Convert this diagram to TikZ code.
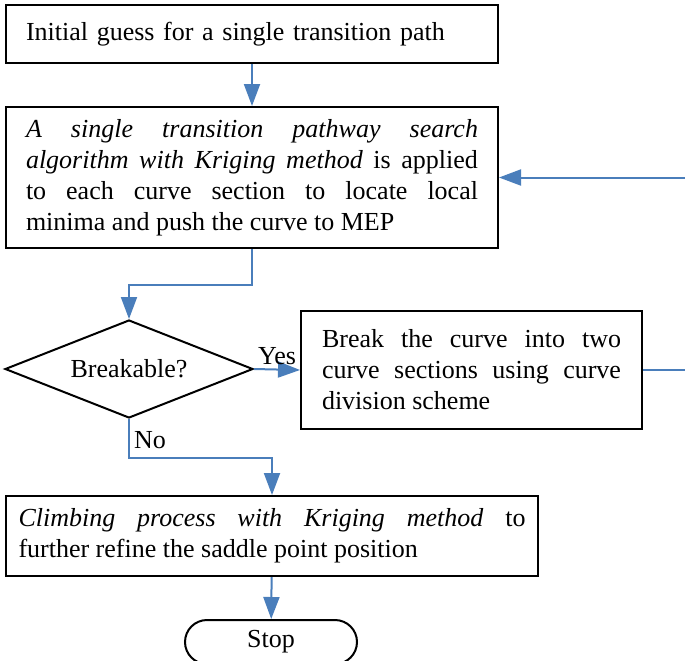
\documentclass[tikz,border=0pt]{standalone}
\usepackage{fontspec}
\setmainfont{Liberation Serif}
\usepackage{tikz}
\usetikzlibrary{arrows.meta,positioning,shapes.geometric}
\definecolor{flowBlue}{HTML}{4A7EBB}
\newcommand{\flowfont}{\fontsize{13}{15.5}\selectfont}
\tikzset{
  flowbox/.style={draw=black, line width=1pt, rectangle, inner ysep=0pt, anchor=north west, font=\flowfont},
  flowdecision/.style={draw=black, line width=1pt, diamond, inner sep=0pt, aspect=2.5, font=\flowfont},
  flowstop/.style={draw=black, line width=1pt, rectangle, rounded corners=11pt, inner sep=0pt, font=\flowfont},
  flowarrow/.style={-{Triangle[length=11pt, width=8pt]}, line width=1pt, draw=flowBlue},
  flowlabel/.style={font=\flowfont, inner sep=2pt}
}
\begin{document}
\begin{tikzpicture}[x=0.5pt, y=-0.5pt]
    \useasboundingbox (0,0) rectangle (685,660);
    \clip (0,0) rectangle (685,660);
    \node[flowbox, minimum width=246pt, minimum height=29pt, text width=226pt, inner xsep=10pt, align=left] (init) at (5,4)
      {Initial guess for a single transition path};
    \node[flowbox, minimum width=246pt, minimum height=70.5pt, text width=226pt, inner xsep=10pt, align=justify] (search) at (5,106)
      {\textit{A single transition pathway search\linebreak algorithm with Kriging method} is applied\linebreak to each curve section to locate local\linebreak minima and push the curve to MEP};
    \node[flowdecision, minimum width=124pt, minimum height=49pt] (brk) at (129,369) {Breakable?};
    \node[flowbox, minimum width=170.5pt, minimum height=59pt, text width=149.5pt, inner xsep=10.5pt, align=justify] (split) at (300,310)
      {Break the curve into two\linebreak curve sections using curve\linebreak division scheme};
    \node[flowbox, minimum width=266pt, minimum height=40pt, text width=253.5pt, inner xsep=6.25pt, align=justify] (climb) at (5,495)
      {\textit{Climbing process with Kriging method} to\linebreak further refine the saddle point position};
    \node[flowstop, minimum width=86pt, minimum height=22pt] (stop) at (271,642) {Stop};
    % connectors
    \draw[flowarrow] (init) -- (search);
    \draw[flowarrow] (search.south) -- ++(0,36) -| (brk.north);
    \draw[flowarrow] (brk.east) -- node[flowlabel, above]{Yes} (split.west);
    \draw[flowarrow] (split.east) -- ++(80,0) |- (search.east);
    \draw[flowarrow] (brk.south) -- ++(0,39) node[flowlabel, right, pos=0.55]{No} -| (climb.north);
    \draw[flowarrow] (climb) -- (stop);
\end{tikzpicture}
\end{document}
